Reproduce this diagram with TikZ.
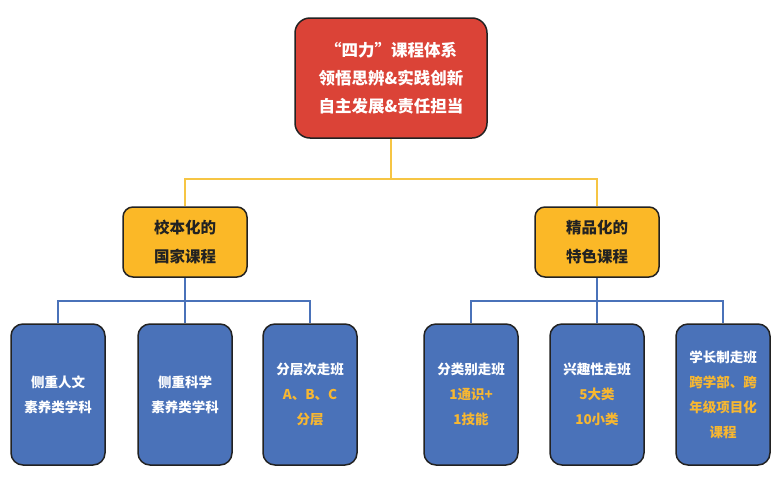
\documentclass[tikz,border=0pt]{standalone}
\usepackage{fontspec}
\usepackage{xcolor}
\newfontfamily\cjk{Noto Sans CJK SC}
\definecolor{boxred}{HTML}{DB4337}
\definecolor{boxyellow}{HTML}{FBB827}
\definecolor{boxblue}{HTML}{4A72B9}
\definecolor{lineyellow}{HTML}{F6C544}
\definecolor{txtorange}{HTML}{F7B731}
\definecolor{edge}{HTML}{222222}
\tikzset{
  topbox/.style={draw=edge, line width=1.5pt, fill=boxred, rounded corners=15pt,
    minimum width=192pt, minimum height=120pt, align=center, text=white,
    font=\cjk\bfseries\fontsize{16.5}{28}\selectfont},
  midbox/.style={draw=edge, line width=1.5pt, fill=boxyellow, rounded corners=10pt,
    minimum width=124pt, minimum height=70pt, align=center, text=edge,
    font=\cjk\bfseries\fontsize{15.5}{29}\selectfont},
  leafbox/.style={draw=edge, line width=1.5pt, fill=boxblue, rounded corners=12pt,
    minimum width=94pt, minimum height=141pt, align=center, text=white,
    font=\cjk\bfseries\fontsize{13.5}{25}\selectfont},
  ylink/.style={lineyellow, line width=2pt},
  blink/.style={boxblue, line width=2pt}
}
\begin{document}
\begin{tikzpicture}[x=1pt, y=-1pt]
    \useasboundingbox (0,0) rectangle (781,501);
    \node[topbox] (sili) at (391,78) {“四力”课程体系\\领悟思辨\&实践创新\\自主发展\&责任担当};
    \node[midbox] (guojia) at (185,242) {校本化的\\国家课程};
    \node[midbox] (tese) at (597,242) {精品化的\\特色课程};
    \node[leafbox] (renwen) at (58,394.5) {侧重人文\\素养类学科};
    \node[leafbox] (kexue) at (185,394.5) {侧重科学\\素养类学科};
    \node[leafbox] (fenceng) at (310,394.5) {分层次走班\\\textcolor{txtorange}{A、B、C}\\\textcolor{txtorange}{分层}};
    \node[leafbox] (fenlei) at (471,394.5) {分类别走班\\\textcolor{txtorange}{1通识+}\\\textcolor{txtorange}{1技能}};
    \node[leafbox] (xingqu) at (597,394.5) {兴趣性走班\\\textcolor{txtorange}{5大类}\\\textcolor{txtorange}{10小类}};
    \node[leafbox] (xuezhang) at (723,394.5) {学长制走班\\\textcolor{txtorange}{跨学部、跨}\\\textcolor{txtorange}{年级项目化}\\\textcolor{txtorange}{课程}};
    \draw[ylink] (sili.south) -- ++(0,40) -| (guojia.north);
    \draw[ylink] (sili.south) -- ++(0,40) -| (tese.north);
    \draw[blink] (guojia.south) -- ++(0,23) -| (renwen.north);
    \draw[blink] (guojia.south) -- (kexue.north);
    \draw[blink] (guojia.south) -- ++(0,23) -| (fenceng.north);
    \draw[blink] (tese.south) -- ++(0,23) -| (fenlei.north);
    \draw[blink] (tese.south) -- (xingqu.north);
    \draw[blink] (tese.south) -- ++(0,23) -| (xuezhang.north);
\end{tikzpicture}
\end{document}
